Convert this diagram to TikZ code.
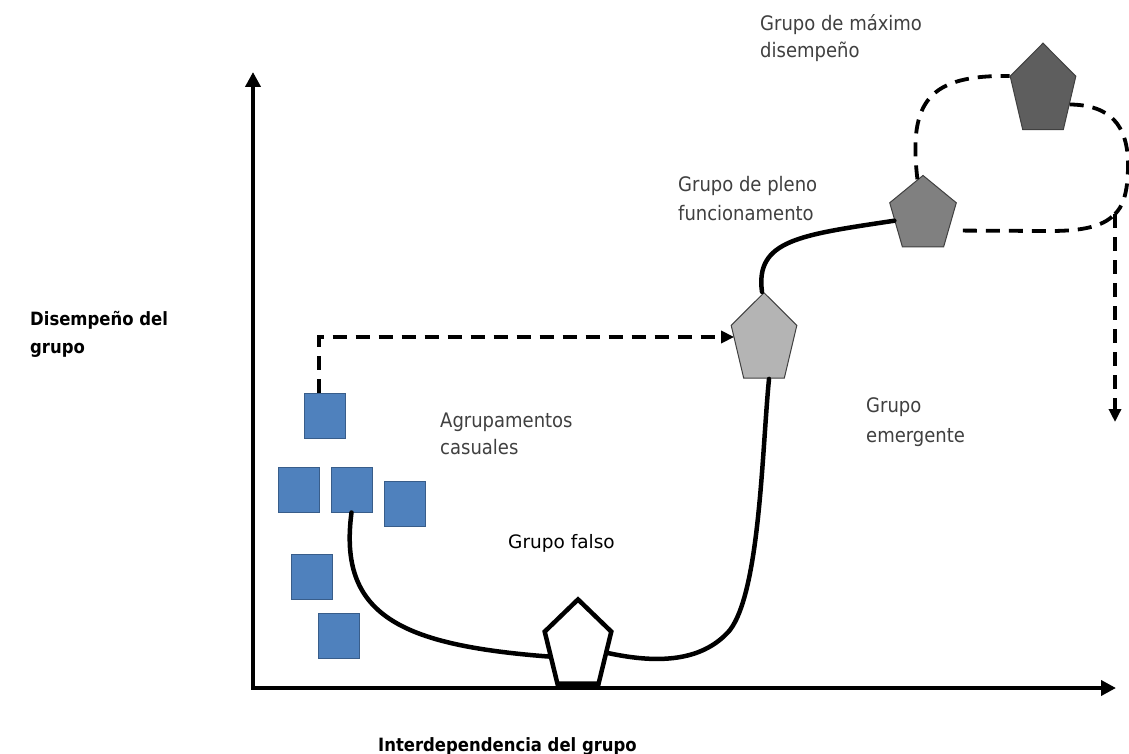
\documentclass[tikz,border=0pt]{standalone}
\usepackage{fontspec}
\setmainfont{DejaVu Sans}
\newfontfamily\labelfont{DejaVu Sans Condensed}
\newfontfamily\boldcond{DejaVu Sans Condensed Bold}
\usetikzlibrary{shapes.geometric, arrows.meta}

\definecolor{sqfill}{HTML}{4F81BD}
\definecolor{sqline}{HTML}{385D8A}
\definecolor{pentline}{HTML}{404040}
\definecolor{pentlight}{HTML}{B4B4B4}
\definecolor{pentmid}{HTML}{808080}
\definecolor{pentdark}{HTML}{5E5E5E}
\definecolor{labelgray}{HTML}{404040}

\tikzset{
  axis/.style={line width=4pt, line join=miter,
    {Triangle[length=15pt,width=15pt]}-{Triangle[length=15pt,width=15pt]}},
  sq/.style={rectangle, draw=sqline, fill=sqfill, line width=1pt,
    minimum width=41pt, minimum height=45pt, inner sep=0pt},
  pentagon/.style={regular polygon, regular polygon sides=5, inner sep=0pt,
    transform shape, draw=pentline, line width=1pt},
  link/.style={line width=4.5pt, line cap=round},
  dlink/.style={line width=3.8pt, dash pattern=on 14pt off 9pt},
  dtip/.style={-{Triangle[length=13pt,width=12pt]}},
  lbl/.style={anchor=base west, inner sep=0pt, text=labelgray,
    font=\labelfont\fontsize{20pt}{24pt}\selectfont},
  falso/.style={anchor=base west, inner sep=0pt, text=black,
    font=\fontsize{18.5pt}{22pt}\selectfont},
  axlbl/.style={anchor=base west, inner sep=0pt, text=black,
    font=\boldcond\fontsize{18.3pt}{22pt}\selectfont},
}

\begin{document}
\begin{tikzpicture}[x=1pt, y=-1pt]
\useasboundingbox (0,0) rectangle (1129,754);
\fill[white] (0,0) rectangle (1129,754);

% axes
\coordinate (O) at (253,688);
\coordinate (ytip) at (253,72);
\coordinate (xtip) at (1116,688);
\draw[axis] (ytip) -- (O) -- (xtip);

% loose individuals (blue squares)
\node[sq] (s1) at (324.5,415.5) {};
\node[sq] (s2) at (298.5,489.5) {};
\node[sq] (s3) at (351.5,489.5) {};
\node[sq] (s4) at (404.5,504) {};
\node[sq] (s5) at (312,577) {};
\node[sq] (s6) at (338.5,635.5) {};

% group stages (stretched pentagons)
\begin{scope}[shift={(578,646)}, yscale=1.33]
  \node[pentagon, minimum size=70pt, draw=black, fill=white, line width=4.5pt] (wp) at (0,0) {};
\end{scope}
\begin{scope}[shift={(764,340)}, yscale=1.37]
  \node[pentagon, minimum size=69pt, fill=pentlight] (lp) at (0,0) {};
\end{scope}
\begin{scope}[shift={(923,215)}, yscale=1.13]
  \node[pentagon, minimum size=70pt, fill=pentmid] (mp) at (0,0) {};
\end{scope}
\begin{scope}[shift={(1043,91)}, yscale=1.386]
  \node[pentagon, minimum size=69pt, fill=pentdark] (dp) at (0,0) {};
\end{scope}

% performance curve
\draw[link] (s3.south) .. controls (338,615) and (400,645) .. (wp.195);
\draw[link] (wp.-10) .. controls (650,662) and (700,665) .. (730,630)
  .. controls (760,590) and (762,450) .. ([xshift=5pt]lp.south);
\draw[link] ([xshift=-2pt]lp.north) .. controls (755,240) and (800,235) .. (mp.190);

% dashed jump from the loose individuals
\coordinate (bend) at (319,337);
\draw[dlink, dtip] (s1.north -| bend) -- (bend) -- (lp.west |- bend);

% dashed loop around the top performer
\coordinate (J) at (1115,214);
\coordinate (down) at (1115,422);
\draw[dlink] (mp.100) .. controls (908,100) and (930,75) .. (dp.corner 2);
\draw[dlink] (dp.-20) .. controls (1110,105) and (1128,125) .. (1128,165)
  .. controls (1128,195) and (1122,207) .. (J);
\draw[dlink, shorten <=14pt] (mp.-28) -- (1050,231)
  .. controls (1090,231) and (1105,224) .. (J);
\draw[dlink, dtip] (J) -- (down);

% labels
\node[lbl] (tMax1) at (760,31) {Grupo de máximo};
\node[lbl] (tMax2) at (760,58) {disempeño};
\node[lbl] (tPleno1) at (678,192) {Grupo de pleno};
\node[lbl] (tPleno2) at (678,220) {funcionamento};
\node[lbl] (tAgr1) at (440,427) {Agrupamentos};
\node[lbl] (tAgr2) at (440,454) {casuales};
\node[lbl] (tEm1) at (866,412) {Grupo};
\node[lbl] (tEm2) at (866,442) {emergente};
\node[falso] (tFalso) at (508,548) {Grupo falso};
\node[axlbl] (tY1) at (30,325) {Disempeño del};
\node[axlbl] (tY2) at (30,353) {grupo};
\node[axlbl] (tX) at (378,751) {Interdependencia del grupo};
\end{tikzpicture}
\end{document}
